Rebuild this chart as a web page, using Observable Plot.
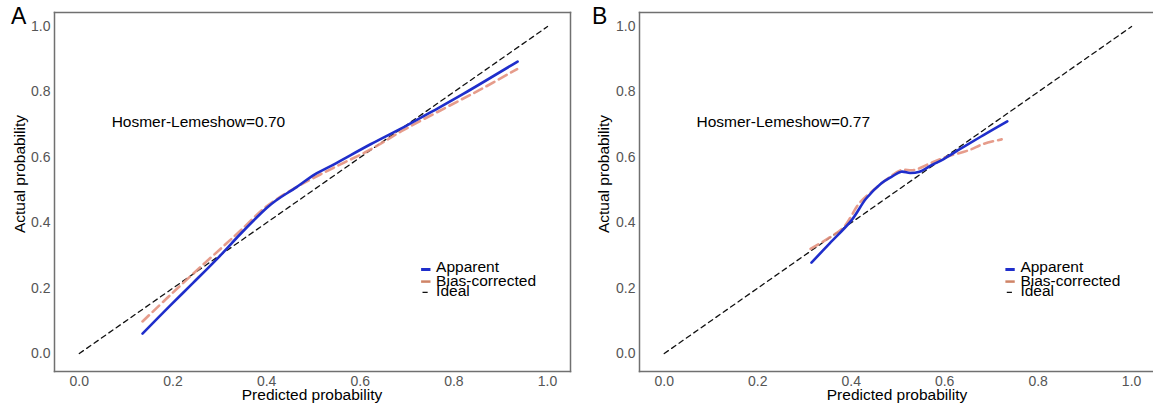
<!DOCTYPE html>
<html>
<head>
<meta charset="utf-8">
<script src="https://cdn.jsdelivr.net/npm/d3@7"></script>
<script src="https://cdn.jsdelivr.net/npm/@observablehq/plot@0.6"></script>
<style>
  html, body { margin: 0; padding: 0; background: #fff; overflow: hidden; }
  #wrap { position: relative; width: 1153px; height: 406px; overflow: hidden; font-family: "Liberation Sans", Arial, sans-serif; }
  .panel { position: absolute; top: 0; width: 584px; height: 406px; }
  .panel svg { max-width: none !important; display: block; }
  .tag { position: absolute; top: 2px; font-size: 23px; line-height: 28px; color: #000; }
  .xt { position: absolute; top: 386px; width: 300px; text-align: center; font-size: 15.5px; line-height: 18px; color: #000; white-space: nowrap; }
  .yt { position: absolute; width: 200px; text-align: center; font-size: 15.5px; line-height: 18px; color: #000; white-space: nowrap; transform: rotate(-90deg); transform-origin: 50% 50%; }
</style>
</head>
<body>
<div id="wrap">
  <div class="panel" id="pA" style="left:0px"></div>
  <div class="panel" id="pB" style="left:584px"></div>
  <div class="tag" style="left:11px">A</div>
  <div class="tag" style="left:592px">B</div>
  <div class="xt" style="left:162px">Predicted probability</div>
  <div class="xt" style="left:747px">Predicted probability</div>
  <div class="yt" style="left:-80px; top:165px">Actual probability</div>
  <div class="yt" style="left:504px; top:165px">Actual probability</div>
</div>
<script>
// ---- Data ----
const ticks = [0, 0.2, 0.4, 0.6, 0.8, 1.0];
const ideal = [[0, 0], [1, 1]];

// Panel A
const aApparentX = [0.135, 0.195, 0.243, 0.300, 0.345, 0.400, 0.420, 0.464, 0.503, 0.543, 0.622, 0.700, 0.757, 0.820, 0.936];
const aApparentY = [0.061, 0.148, 0.216, 0.298, 0.367, 0.445, 0.468, 0.509, 0.548, 0.578, 0.640, 0.698, 0.743, 0.794, 0.893];
const aBiasX = [0.135, 0.187, 0.243, 0.306, 0.345, 0.400, 0.464, 0.543, 0.622, 0.693, 0.780, 0.860, 0.935];
const aBiasY = [0.098, 0.169, 0.244, 0.326, 0.377, 0.450, 0.509, 0.568, 0.624, 0.684, 0.750, 0.810, 0.870];
const aHL = "Hosmer-Lemeshow=0.70";

// Panel B
const bApparentX = [0.315, 0.354, 0.401, 0.432, 0.464, 0.487, 0.507, 0.526, 0.546, 0.573, 0.597, 0.636, 0.683, 0.734];
const bApparentY = [0.278, 0.337, 0.408, 0.474, 0.520, 0.541, 0.556, 0.552, 0.556, 0.577, 0.594, 0.628, 0.668, 0.710];
const bBiasX = [0.313, 0.354, 0.385, 0.417, 0.448, 0.479, 0.507, 0.534, 0.573, 0.605, 0.652, 0.683, 0.722];
const bBiasY = [0.320, 0.355, 0.388, 0.459, 0.500, 0.536, 0.561, 0.561, 0.584, 0.602, 0.622, 0.641, 0.655];
const bHL = "Hosmer-Lemeshow=0.77";

const legendLabels = ["Apparent", "Bias-corrected", "Ideal"];

const BLUE = "#1f2ecb";
const SALMON = "#e3917e";
const SALMON_KEY = "#cf8467";

function pts(xs, ys) { return xs.map((x, i) => ({x, y: ys[i]})); }

function panel(appX, appY, biasX, biasY, hl, marginLeft, frameSides) {
  const app = pts(appX, appY);
  const bias = pts(biasX, biasY);
  const idl = ideal.map(([x, y]) => ({x, y}));
  const legY = [0.263, 0.223, 0.19];
  const keyY = [0.257, 0.220, 0.187];
  return Plot.plot({
    width: 584,
    height: 406,
    marginLeft: marginLeft,
    marginRight: 14,
    marginTop: 12,
    marginBottom: 35,
    style: {fontFamily: "'Liberation Sans', Arial, sans-serif", fontSize: "14px", color: "#555", background: "transparent", overflow: "visible"},
    x: {domain: [-0.053, 1.049]},
    y: {domain: [-0.055, 1.043]},
    marks: [
      Plot.axisX({ticks, tickFormat: d3.format(".1f"), tickSize: 0, tickPadding: 5, label: null}),
      Plot.axisY({ticks, tickFormat: d3.format(".1f"), tickSize: 0, tickPadding: 4, label: null}),
      ...frameSides.map(anchor => Plot.frame({anchor, stroke: "#707070", strokeWidth: 1.5})),
      Plot.line(idl, {x: "x", y: "y", stroke: "#111", strokeWidth: 1.3, strokeDasharray: "5,4"}),
      Plot.line(bias, {x: "x", y: "y", stroke: SALMON, strokeWidth: 2.6, strokeDasharray: "9,5", curve: "catmull-rom", strokeOpacity: 0.9}),
      Plot.line(app, {x: "x", y: "y", stroke: BLUE, strokeWidth: 2.6, curve: "catmull-rom"}),
      Plot.text([hl], {x: 0.069, y: 0.708, text: d => d, textAnchor: "start", fill: "#000", fontSize: 15.5}),
      // legend keys
      Plot.ruleY([keyY[0]], {x1: 0.731, x2: 0.751, stroke: BLUE, strokeWidth: 3}),
      Plot.ruleY([keyY[1]], {x1: 0.731, x2: 0.751, stroke: SALMON_KEY, strokeWidth: 2.5}),
      Plot.ruleY([keyY[2]], {x1: 0.734, x2: 0.745, stroke: "#111", strokeWidth: 1.3}),
      Plot.text(legendLabels, {x: 0.762, y: (d, i) => legY[i], text: d => d, textAnchor: "start", fill: "#000", fontSize: 15.5})
    ]
  });
}

document.getElementById("pA").appendChild(panel(aApparentX, aApparentY, aBiasX, aBiasY, aHL, 54, ["top", "right", "bottom", "left"]));
document.getElementById("pB").appendChild(panel(bApparentX, bApparentY, bBiasX, bBiasY, bHL, 55, ["top", "bottom", "left"]));
</script>
</body>
</html>
